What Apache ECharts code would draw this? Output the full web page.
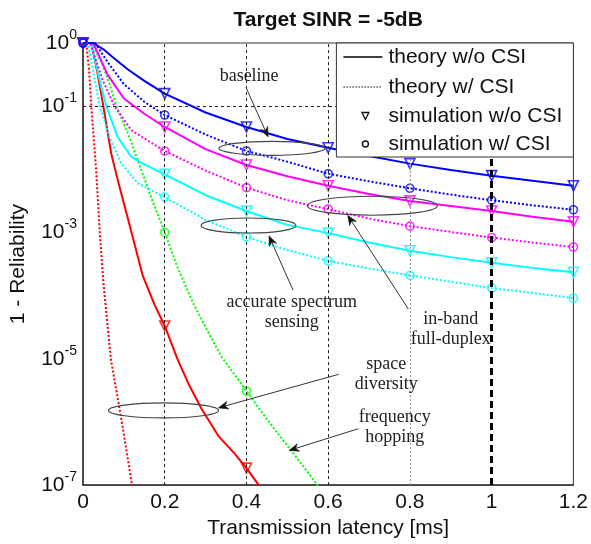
<!DOCTYPE html>
<html><head><meta charset="utf-8">
<script src="https://cdn.jsdelivr.net/npm/echarts/dist/echarts.min.js"></script>
<style>html,body{margin:0;padding:0;background:#fff}#c{width:591px;height:544px}</style>
</head><body><div id="c"></div>
<script>
// ---------- data ----------
const xTicks = [0, 0.2, 0.4, 0.6, 0.8, 1.0, 1.2];
const yTickExponents = [0, -1, -3, -5, -7];
const xSim = [0, 0.2, 0.4, 0.6, 0.8, 1.0, 1.2];
const xSimShort = [0, 0.2, 0.4];

// theory curves [latency ms, 1 - reliability]
const blueNoTheory = [[0,1],[0.025,1],[0.05,0.794],[0.07,0.617],[0.11,0.380],[0.15,0.251],[0.2,0.158],[0.3,0.0794],[0.4,0.0468],[0.5,0.0302],[0.6,0.0219],[0.7,0.0162],[0.8,0.0123],[0.9,0.00977],[1.0,0.00794],[1.1,0.00661],[1.2,0.0055]];
const blueWTheory = [[0,1],[0.03,1],[0.06,0.501],[0.1,0.224],[0.15,0.117],[0.2,0.0724],[0.3,0.0355],[0.4,0.0195],[0.5,0.0132],[0.6,0.00851],[0.7,0.00646],[0.8,0.00501],[0.9,0.00398],[1.0,0.00324],[1.1,0.00269],[1.2,0.00229]];
const magNoTheory = [[0,1],[0.025,1],[0.06,0.316],[0.1,0.132],[0.15,0.0759],[0.2,0.0468],[0.3,0.0209],[0.4,0.0117],[0.5,0.00776],[0.6,0.0055],[0.7,0.00407],[0.8,0.00316],[0.9,0.00263],[1.0,0.00219],[1.1,0.00178],[1.2,0.00148]];
const magWTheory = [[0,1],[0.017,1],[0.049,0.251],[0.077,0.1],[0.118,0.0417],[0.15,0.0309],[0.2,0.0195],[0.3,0.00955],[0.4,0.00513],[0.5,0.00324],[0.6,0.00234],[0.7,0.00166],[0.8,0.00126],[0.9,0.00102],[1.0,0.000832],[1.1,0.000692],[1.2,0.000589]];
const cyanNoTheory = [[0,1],[0.02,1],[0.045,0.2],[0.057,0.1],[0.085,0.0324],[0.118,0.0158],[0.15,0.0120],[0.2,0.00832],[0.3,0.00389],[0.4,0.00219],[0.5,0.00132],[0.6,0.000977],[0.7,0.000692],[0.8,0.000513],[0.9,0.000407],[1.0,0.000331],[1.1,0.000275],[1.2,0.000234]];
const cyanWTheory = [[0,1],[0.012,1],[0.032,0.2],[0.041,0.1],[0.065,0.0324],[0.093,0.0126],[0.134,0.00603],[0.2,0.00363],[0.3,0.00158],[0.4,0.000851],[0.5,0.000525],[0.6,0.000355],[0.7,0.000269],[0.8,0.000209],[0.9,0.000166],[1.0,0.000132],[1.1,0.00011],[1.2,0.0000912]];
const redNoTheory = [[0,1],[0.02,1],[0.035,0.35],[0.049,0.107],[0.069,0.0178],[0.089,0.00537],[0.118,0.00105],[0.146,0.000209],[0.175,7.2e-5],[0.2,3.31e-5],[0.231,1e-5],[0.26,3.8e-6],[0.29,1.62e-6],[0.331,6.03e-7],[0.37,3.2e-7],[0.4,1.86e-7],[0.43,1e-7],[0.45,6.3e-8]];
const redWTheory = [[0,1],[0.008,1],[0.015,0.363],[0.02,0.107],[0.032,0.01],[0.041,0.001],[0.05,1.58e-4],[0.068,1e-5],[0.095,1e-6],[0.12,1e-7],[0.125,6.3e-8]];
const greenWTheory = [[0,1],[0.02,1],[0.045,0.501],[0.065,0.224],[0.082,0.1],[0.114,0.0316],[0.142,0.01],[0.17,0.00316],[0.2,0.001],[0.231,0.000282],[0.27,7.5e-5],[0.3,3.16e-5],[0.338,1.1e-5],[0.4,3.09e-6],[0.45,1.1e-6],[0.509,3.55e-7],[0.574,1e-7],[0.59,6.3e-8]];

// simulation markers
const blueNoSim = [1, 0.158, 0.0468, 0.0219, 0.0123, 0.00794, 0.0055];
const blueWSim = [1, 0.0724, 0.0195, 0.00851, 0.00501, 0.00324, 0.00229];
const magNoSim = [1, 0.0468, 0.0117, 0.0055, 0.00316, 0.00219, 0.00148];
const magWSim = [1, 0.0195, 0.00513, 0.00234, 0.00126, 0.000832, 0.000589];
const cyanNoSim = [1, 0.00832, 0.00219, 0.000977, 0.000513, 0.000331, 0.000234];
const cyanWSim = [1, 0.00363, 0.000851, 0.000355, 0.000209, 0.000132, 0.0000912];
const redNoSim = [1, 3.31e-5, 1.86e-7];
const greenWSim = [1, 0.001, 3.09e-6];

// reference lines
const vDashed = [0.2, 0.4, 0.6];
const vDotted = [0.8];
const vThick = [1.0];
const hDashed = [0.1, 0.001];
const hThick = [1e-5];

const legendNames = ['theory w/o CSI', 'theory w/ CSI', 'simulation w/o CSI', 'simulation w/ CSI'];

// annotations (data coordinates)
const ellipses = [
  {x: 0.4625, y: 0.0215, rx: 53, ry: 7},
  {x: 0.708, y: 0.00265, rx: 65, ry: 9.5},
  {x: 0.405, y: 0.00129, rx: 47.5, ry: 7.5},
  {x: 0.197, y: 1.52e-6, rx: 55, ry: 7.5}
];
const arrows = [
  {from: [0.399, 0.197], to: [0.453, 0.0325]},
  {from: [0.796, 6.14e-5], to: [0.6475, 0.00188]},
  {from: [0.514, 1.22e-4], to: [0.455, 8.85e-4]},
  {from: [0.6256, 5.68e-6], to: [0.331, 1.67e-6]},
  {from: [0.674, 7.82e-7], to: [0.504, 3.53e-7]}
];
const notes = [
  {text: 'baseline', x: 0.4065, y: 0.294},
  {text: 'in-band\nfull-duplex', x: 0.9, y: 2.98e-5},
  {text: 'accurate spectrum\nsensing', x: 0.511, y: 5.5e-5},
  {text: 'space\ndiversity', x: 0.742, y: 5.68e-6},
  {text: 'frequency\nhopping', x: 0.763, y: 8.1e-7}
];

// ---------- chart ----------
const SANS = '"Liberation Sans", Arial, Helvetica, sans-serif';
const SERIF = '"Liberation Serif", "Times New Roman", serif';
const COL = {blue: '#0000ff', mag: '#ff00ff', cyan: '#00ffff', red: '#ff0000', green: '#00ff00'};

function theory(data, color, dotted) {
  return {type: 'line', data: data, symbol: 'none', showSymbol: false, silent: true,
    smooth: false, z: 3,
    lineStyle: {color: color, width: 2, type: dotted ? [2, 2] : 'solid'}};
}
function sim(xs, ys, color, tri) {
  return {type: 'scatter', data: xs.map((x, i) => [x, ys[i]]), silent: true, z: 4,
    symbol: tri ? 'triangle' : 'circle', symbolRotate: tri ? 180 : 0, symbolSize: tri ? 10 : 8,
    itemStyle: {color: 'rgba(0,0,0,0)', borderColor: color, borderWidth: 1.6}};
}

const gridLineData = [].concat(
  vDashed.map(v => ({xAxis: v, lineStyle: {color: '#222', width: 1, type: [3, 3]}})),
  vDotted.map(v => ({xAxis: v, lineStyle: {color: '#999', width: 1.2, type: [2, 2]}})),
  vThick.map(v => ({xAxis: v, lineStyle: {color: '#000', width: 3, type: [7, 4]}})),
  hDashed.map(v => ({yAxis: v, lineStyle: {color: '#222', width: 1, type: [3, 3]}})),
  hThick.map(v => ({yAxis: v, lineStyle: {color: '#111', width: 3, type: 'solid'}}))
);

const option = {
  animation: false,
  backgroundColor: '#fff',
  grid: {left: 81, right: 17, top: 43, bottom: 54, show: true, borderColor: '#333', borderWidth: 1},
  xAxis: {
    type: 'value', min: 0, max: 1.2, interval: 0.2,
    name: 'Transmission latency [ms]', nameLocation: 'middle', nameGap: 26,
    nameTextStyle: {fontSize: 21, color: '#111', fontFamily: SANS},
    axisLine: {lineStyle: {color: '#333', width: 1.5}},
    axisTick: {show: false}, splitLine: {show: false},
    axisLabel: {fontSize: 21, color: '#111', fontFamily: SANS, margin: 7}
  },
  yAxis: {
    type: 'log', logBase: 10, min: 1e-7, max: 1, splitNumber: 7,
    name: '1 - Reliability', nameLocation: 'middle', nameGap: 54, nameRotate: 90,
    nameTextStyle: {fontSize: 21, color: '#111', fontFamily: SANS},
    axisLine: {lineStyle: {color: '#333', width: 1.5}},
    axisTick: {show: false}, splitLine: {show: false}, minorSplitLine: {show: false},
    axisLabel: {
      margin: 6,
      formatter: function (v) {
        const e = Math.round(Math.log10(v));
        return yTickExponents.indexOf(e) >= 0 ? '{b|10}{s|' + e + '}' : '';
      },
      rich: {
        b: {fontSize: 21, lineHeight: 36, color: '#111', fontFamily: SANS, verticalAlign: 'middle'},
        s: {fontSize: 14, lineHeight: 20, color: '#111', fontFamily: SANS, verticalAlign: 'middle', padding: [0, 0, 16, 0]}
      }
    }
  },
  series: [
    {type: 'line', name: 'gridlines', data: [], silent: true, z: 1,
      markLine: {silent: true, symbol: ['none', 'none'], label: {show: false}, animation: false, data: gridLineData}},
    theory(redWTheory, COL.red, true),
    theory(greenWTheory, COL.green, true),
    theory(redNoTheory, COL.red, false),
    theory(cyanWTheory, COL.cyan, true),
    theory(cyanNoTheory, COL.cyan, false),
    theory(magWTheory, COL.mag, true),
    theory(magNoTheory, COL.mag, false),
    theory(blueWTheory, COL.blue, true),
    theory(blueNoTheory, COL.blue, false),
    sim(xSimShort, greenWSim, COL.green, false),
    sim(xSimShort, redNoSim, COL.red, true),
    sim(xSim, cyanWSim, COL.cyan, false),
    sim(xSim, cyanNoSim, COL.cyan, true),
    sim(xSim, magWSim, COL.mag, false),
    sim(xSim, magNoSim, COL.mag, true),
    sim(xSim, blueWSim, COL.blue, false),
    sim(xSim, blueNoSim, COL.blue, true)
  ]
};

const chart = echarts.init(document.getElementById('c'), null, {renderer: 'canvas'});
chart.setOption(option);

function px(p) { return chart.convertToPixel({xAxisIndex: 0, yAxisIndex: 0}, p); }
const g = [];
const gl = px([0, 1]), gr = px([1.2, 1]);
// title
g.push({type: 'text', z: 30, style: {text: 'Target SINR = -5dB', x: (gl[0] + gr[0]) / 2, y: 20,
  textAlign: 'center', textVerticalAlign: 'middle', fill: '#111', font: 'bold 21px ' + SANS}});
// legend box (top-right corner of the plot)
const LW = 237, LH = 114;
const lx = gr[0] - LW, ly = gr[1];
const rowY = [14, 44, 73, 101];
g.push({type: 'rect', z: 40, silent: true, shape: {x: lx, y: ly, width: LW, height: LH},
  style: {fill: '#fff', stroke: '#333', lineWidth: 1}});
g.push({type: 'line', z: 41, silent: true, shape: {x1: lx + 7, y1: ly + rowY[0], x2: lx + 46, y2: ly + rowY[0]},
  style: {stroke: '#000', lineWidth: 1.6}});
g.push({type: 'line', z: 41, silent: true, shape: {x1: lx + 7, y1: ly + rowY[1], x2: lx + 46, y2: ly + rowY[1]},
  style: {stroke: '#555', lineWidth: 1.3, lineDash: [1.5, 1.5]}});
g.push({type: 'polygon', z: 41, silent: true,
  shape: {points: [[lx + 25.5, ly + rowY[2] - 3.5], [lx + 32.5, ly + rowY[2] - 3.5], [lx + 29, ly + rowY[2] + 3.5]]},
  style: {fill: 'none', stroke: '#111', lineWidth: 1.3}});
g.push({type: 'circle', z: 41, silent: true, shape: {cx: lx + 29, cy: ly + rowY[3], r: 3},
  style: {fill: 'none', stroke: '#111', lineWidth: 1.4}});
legendNames.forEach((name, i) => {
  g.push({type: 'text', z: 42, silent: true, style: {text: name, x: lx + 52, y: ly + rowY[i],
    textAlign: 'left', textVerticalAlign: 'middle', fill: '#111', font: '21px ' + SANS}});
});
// annotations
ellipses.forEach(e => {
  const c = px([e.x, e.y]);
  g.push({type: 'ellipse', z: 10, silent: true, shape: {cx: c[0], cy: c[1], rx: e.rx, ry: e.ry},
    style: {fill: 'none', stroke: '#444', lineWidth: 1.2}});
});
arrows.forEach(a => {
  const p0 = px(a.from), p1 = px(a.to);
  const dx = p1[0] - p0[0], dy = p1[1] - p0[1], L = Math.sqrt(dx * dx + dy * dy);
  const ux = dx / L, uy = dy / L, hl = 10, hw = 4;
  const bx = p1[0] - ux * hl, by = p1[1] - uy * hl;
  g.push({type: 'line', z: 10, silent: true, shape: {x1: p0[0], y1: p0[1], x2: bx + ux * 3, y2: by + uy * 3},
    style: {stroke: '#333', lineWidth: 1}});
  g.push({type: 'polygon', z: 10, silent: true,
    shape: {points: [[p1[0], p1[1]], [bx - uy * hw, by + ux * hw], [bx + ux * 3, by + uy * 3], [bx + uy * hw, by - ux * hw]]},
    style: {fill: '#111', stroke: '#111', lineWidth: 0.5}});
});
notes.forEach(n => {
  const c = px([n.x, n.y]);
  g.push({type: 'text', z: 12, silent: true, style: {text: n.text, x: c[0], y: c[1],
    textAlign: 'center', textVerticalAlign: 'middle', fill: '#222', font: '18px ' + SERIF, lineHeight: 20}});
});
chart.setOption({graphic: g});
</script></body></html>
